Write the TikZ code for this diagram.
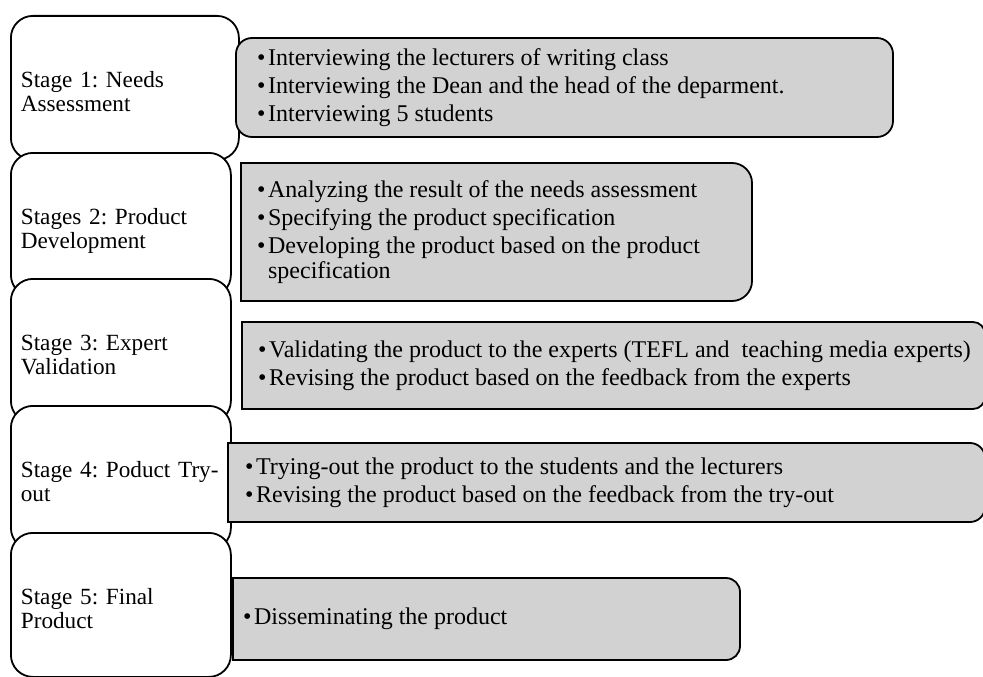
\documentclass[tikz,border=0pt]{standalone}
\usepackage{fontspec}
\setmainfont{Liberation Serif}
\definecolor{boxgray}{RGB}{210,210,210}

\begin{document}
\begin{tikzpicture}[x=1pt, y=1pt,
	stagebox/.style={draw, line width=1.8pt, fill=white, rounded corners=22pt, anchor=north west,
		minimum height=144pt, text width=200pt, inner xsep=10pt, text depth=17pt, align=left,
		font=\fontsize{23.2}{24.5}\selectfont\frenchspacing},
	activitybox/.style={draw, line width=1.8pt, fill=boxgray},
	activitytext/.style={anchor=west, inner sep=0pt, align=left,
		font=\fontsize{24}{25}\selectfont\frenchspacing}]
	\useasboundingbox (0,0) rectangle (983,-677);
	
	% Stages
	\node[stagebox, text width=208pt] (stage1) at (10,-15) {Stage 1: Needs\\Assessment};
	\node[stagebox] (stage2) at (10,-152) {Stages 2: Product\\Development};
	\node[stagebox] (stage3) at (10,-278) {Stage 3: Expert\\Validation};
	\node[stagebox] (stage4) at (10,-405) {\mbox{Stage 4: Poduct Try-}\\out};
	\node[stagebox] (stage5) at (10,-532) {Stage 5: Final\\Product};
	
	% Needs assessment
	\draw[activitybox, rounded corners=16pt] (236,-38) rectangle (893,-137);
	\node[activitytext] (act1) at (257,-87.5) {\textbullet\kern2.5pt Interviewing the lecturers of writing class\\[3pt]
		\textbullet\kern2.5pt Interviewing the Dean and the head of the deparment.\\[3pt]
		\textbullet\kern2.5pt Interviewing 5 students};
	
	% Product development
	\draw[activitybox] (241,-163) -- (732,-163) arc[start angle=90, end angle=0, radius=20pt]
		-- (752,-281) arc[start angle=0, end angle=-90, radius=20pt] -- (241,-301) -- cycle;
	\node[activitytext] (act2) at (257,-232) {\textbullet\kern2.5pt Analyzing the result of the needs assessment\\[3pt]
		\textbullet\kern2.5pt Specifying the product specification\\[3pt]
		\textbullet\kern2.5pt Developing the product based on the product\\
		\phantom{\textbullet\kern2.5pt}specification};
	
	% Expert validation
	\draw[activitybox] (242,-322) -- (973,-322) arc[start angle=90, end angle=0, radius=12pt]
		-- (985,-397) arc[start angle=0, end angle=-90, radius=12pt] -- (242,-409) -- cycle;
	\node[activitytext] (act3) at (258,-365.5) {\textbullet\kern2.5pt Validating the product to the experts (TEFL and~ teaching media experts)\\[3pt]
		\textbullet\kern2.5pt Revising the product based on the feedback from the experts};
	
	% Try-out
	\draw[activitybox] (228,-443) -- (970,-443) arc[start angle=90, end angle=0, radius=15pt]
		-- (985,-507) arc[start angle=0, end angle=-90, radius=15pt] -- (228,-522) -- cycle;
	\node[activitytext] (act4) at (245,-482.5) {\textbullet\kern2.5pt Trying-out the product to the students and the lecturers\\[3pt]
		\textbullet\kern2.5pt Revising the product based on the feedback from the try-out};
	
	% Final product
	\draw[activitybox] (233,-578) -- (726,-578) arc[start angle=90, end angle=0, radius=14pt]
		-- (740,-646) arc[start angle=0, end angle=-90, radius=14pt] -- (233,-660) -- cycle;
	\node[activitytext] (act5) at (243,-619) {\textbullet\kern2.5pt Disseminating the product};
	
\end{tikzpicture}
\end{document}
